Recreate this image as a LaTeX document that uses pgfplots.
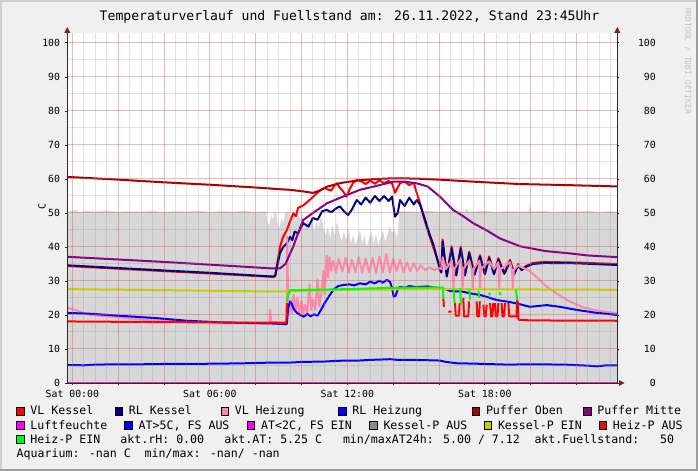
\documentclass[border=0pt]{standalone}
\usepackage{fontspec}
\setmainfont{DejaVu Sans Mono}
\usepackage{pgfplots}
\pgfplotsset{compat=1.18}

\definecolor{bgc}{HTML}{F0F0F0}
\definecolor{shadeA}{HTML}{CFCFCF}
\definecolor{shadeB}{HTML}{9E9E9E}
\definecolor{areac}{HTML}{D7D7D7}
\definecolor{vlk}{HTML}{FF0000}
\definecolor{rlk}{HTML}{000080}
\definecolor{vlh}{HTML}{FF88AA}
\definecolor{rlh}{HTML}{0000FF}
\definecolor{po}{HTML}{AA0000}
\definecolor{pm}{HTML}{880088}
\definecolor{lf}{HTML}{FF00FF}
\definecolor{kpa}{HTML}{8C8C8C}
\definecolor{kpe}{HTML}{CCCC00}
\definecolor{hpe}{HTML}{00FF00}
\definecolor{gridmaj}{HTML}{DE5050}
\definecolor{gridmin}{HTML}{8F8F8F}
\definecolor{axc}{HTML}{2A2A2A}
\definecolor{arrc}{HTML}{7F1F1F}
\definecolor{wmark}{HTML}{C4C4C4}

\newcommand{\tickfont}{\fontsize{9.85bp}{11bp}\selectfont}
\newcommand{\legfont}{\fontsize{11.6bp}{13bp}\selectfont}
\newcommand{\titfont}{\fontsize{13.1bp}{15bp}\selectfont}

\begin{document}
\begin{tikzpicture}
\useasboundingbox (0,0) rectangle (698bp,471bp);
\begin{scope}[shift={(0,471bp)}, x=1bp, y=-1bp]
  \fill[bgc] (0,0) rectangle (698,471);
  \fill[shadeA] (0,0) rectangle (698,2);
  \fill[shadeA] (0,0) rectangle (2,471);
  \fill[shadeB] (0,469) rectangle (698,471);
  \fill[shadeB] (696,0) rectangle (698,471);
\end{scope}

\begin{axis}[
  at={(67.3bp,88bp)}, anchor=south west,
  scale only axis, width=550bp, height=350.3bp,
  xmin=-0.22, xmax=23.78, ymin=0, ymax=103,
  axis background/.style={fill=white},
  axis x line*=bottom, axis y line*=left,
  axis line style={draw=axc, line width=0.8bp, -},
  xtick={0,2,...,22},
  xticklabels={Sat 00:00,,,Sat 06:00,,,Sat 12:00,,,Sat 18:00,,},
  minor xtick={0.5,1,1.5,2.5,3,3.5,4.5,5,5.5,6.5,7,7.5,8.5,9,9.5,10.5,11,11.5,12.5,13,13.5,14.5,15,15.5,16.5,17,17.5,18.5,19,19.5,20.5,21,21.5,22.5,23,23.5},
  ytick={0,10,...,100},
  minor ytick={5,15,...,95},
  grid=both,
  major grid style={draw=gridmaj, opacity=0.4, line width=1bp},
  minor grid style={draw=gridmin, opacity=0.26, line width=1bp},
  tick align=outside, major tick length=2bp, minor tick length=0bp,
  tick style={draw=axc, line width=0.8bp},
  /pgf/number format/assume math mode=true,
  xticklabel style={font=\tickfont, anchor=north, inner sep=0pt, yshift=-5bp},
  yticklabel style={font=\tickfont, anchor=east, inner sep=0pt, xshift=-5bp},
  axis on top, clip=false,
  unbounded coords=jump,
  every axis plot/.append style={line width=2bp, line join=round},
]
% grey area
\addplot[fill=areac, draw=none, line width=0pt] coordinates {
(-0.22,50.2) (0.1,50.9) (0.3,50.3) (0.6,50.6) (1.0,50.4) (1.5,50.7) (2.0,50.3) (2.5,50.5) (3,50.4) (3.5,50.6) (4,50.3) (4.5,50.5) (5,50.4) (5.5,50.6) (6,50.3) (6.5,50.5) (7,50.4) (7.5,50.6) (8,50.3) (8.45,50.5) (8.52,47.5) (8.6,46.2) (8.68,49.5) (8.75,48) (8.82,50.3) (8.9,49.8) (8.98,46.2) (9.05,45.5) (9.12,48.5) (9.2,47) (9.3,50.2) (9.45,50.4)
(9.55,48.5) (9.65,50.2) (9.75,47.5) (9.85,49.8) (9.95,48) (10.05,50) (10.15,45) (10.25,48.5) (10.35,46) (10.45,49.5) (10.55,44.5) (10.65,47.5) (10.75,45.5) (10.85,49) (10.95,46) (11.05,43.5) (11.15,46) (11.25,42.5) (11.35,46.5) (11.45,43) (11.55,47.5) (11.65,44) (11.75,41.5) (11.85,44.5) (11.95,42) (12.05,45.5) (12.15,41) (12.25,43.5) (12.35,40.5) (12.45,42.5) (12.55,45) (12.65,41) (12.75,43.5) (12.85,40) (12.95,42.5) (13.05,44.5) (13.15,41) (13.25,43.5) (13.35,40.5) (13.45,42.5) (13.55,45) (13.65,41.5) (13.75,43.5) (13.85,46) (13.95,44) (14.05,45) (14.15,43) (14.22,44.5) (14.26,50.4) (14.6,50.5) (15,50.3) (15.5,50.6) (16,50.4) (16.5,50.5) (17.1,50.4) (17.2,51.3) (17.3,50.4) (18,50.6) (18.5,50.3) (19,50.5) (19.5,50.4) (19.9,50.5) (19.97,52) (20.04,50.4) (20.5,50.6) (21,50.3) (21.5,50.5) (22,50.4) (22.5,50.6) (23,50.3) (23.5,50.5) (23.78,50.3)
} \closedcycle;
% VL Kessel
\addplot[vlk] coordinates {
(-0.22,34.4) (2,33.6) (4,32.9) (6,32.2) (8.76,31.2) (8.85,31.4) (9.06,40) (9.2,43) (9.36,45) (9.5,47.5) (9.64,49.9) (9.75,49) (9.85,51.5) (10.07,52.2) (10.3,53.5) (10.52,54.8) (10.7,56) (10.85,56.8) (11.0,57.4) (11.1,57.0) (11.3,56.6) (11.45,58.2) (11.54,58.7) (11.65,57.6) (11.8,56.5) (11.97,54.8) (12.1,57) (12.25,58.8) (12.41,59.7) (12.6,59.3) (12.8,58.5) (13.0,59.5) (13.2,58.6) (13.4,59.6) (13.6,58.8) (13.8,59.4) (13.95,58.7) (14.08,55.9) (14.2,57.5) (14.3,58.8) (14.5,59.2) (14.7,58.2) (14.9,58.9) (15.03,55.8) (15.17,52.9) (15.3,49.5) (15.46,46) (15.6,43) (15.74,40.1) (15.9,37) (16.04,34.2) (16.1,32.8)
(16.16,42.2) (16.34,31.5) (16.55,40.2) (16.75,31.8) (16.95,40.1) (17.13,31.8) (17.32,38.6) (17.55,32.0) (17.79,37.6) (18.0,32.2) (18.19,37.2) (18.4,32.2) (18.59,36.7) (18.85,32.3) (19.10,36.2) (19.28,32.2) (19.45,35.0)
(19.6,33.4) (19.8,34.4) (20.1,35.3) (20.6,35.6) (22,35.4) (23.78,35.0)
};
% RL Kessel
\addplot[rlk] coordinates {
(-0.22,34.6) (2,33.8) (4,33.1) (6,32.4) (8.76,31.3) (8.85,31.5) (9.06,38.2) (9.2,40) (9.36,41) (9.5,43) (9.6,42) (9.7,44.5) (9.85,44) (10.07,47) (10.3,46) (10.5,48.5) (10.7,48) (10.9,50.5) (11.1,50.9) (11.3,50.2) (11.54,51.5) (11.68,51.9) (11.85,50.5) (12.03,49.4) (12.2,51) (12.41,53.8) (12.6,52.5) (12.8,54.5) (13.0,53) (13.2,55) (13.4,53.5) (13.6,55) (13.8,53.5) (13.95,54.8) (14.08,48.9) (14.2,50) (14.3,53.8) (14.5,52) (14.7,54.5) (14.9,52.5) (15.03,53.8) (15.17,52.5) (15.3,50) (15.46,46.5) (15.6,43.5) (15.74,41) (15.9,37) (16.04,33.2) (16.1,32.5)
(16.16,41.6) (16.34,31.3) (16.55,39.6) (16.75,31.6) (16.95,39.6) (17.13,31.6) (17.32,38.1) (17.55,31.8) (17.79,37.1) (18.0,32.0) (18.19,36.7) (18.4,32.0) (18.59,36.2) (18.85,32.1) (19.10,35.7) (19.28,32.0) (19.45,34.6)
(19.6,33.2) (19.8,34.2) (20.1,35.0) (20.6,35.3) (22,35.2) (23.78,34.7)
};
% VL Heizung
\addplot[vlh] coordinates {
(-0.22,22.1) (0.1,21.5) (0.4,20.8) (0.685,20.1) (1.5,19.6) (2.5,19.0) (3.61,18.4) (5,18.0) (6.5,17.7) (8.0,17.5) (8.6,17.5) (8.63,21.5) (8.68,18) (9.3,17.8) (9.36,17.8) (9.38,43) (9.42,20) (9.5,24) (9.58,20.5) (9.66,26) (9.74,21) (9.82,25) (9.9,20.5) (10.0,24) (10.08,20.5) (10.16,23) (10.25,20.5) (10.35,29) (10.42,21.5) (10.5,24.5) (10.6,21.5) (10.7,30.5) (10.78,22.5) (10.88,27) (10.96,33) (11.02,26) (11.1,37.5) (11.16,31) (11.22,37) (11.3,33) (11.38,36)
(11.5,32.5) (11.62,36.5) (11.78,32.8) (11.92,36.8) (12.06,32.5) (12.2,36.2) (12.35,32.6) (12.5,37) (12.65,32.4) (12.8,36.6) (12.95,32.5) (13.1,36.8) (13.25,32.3) (13.4,37.2) (13.55,32.6) (13.7,38) (13.85,32.4) (14.0,36.5) (14.15,32.8) (14.3,36.2) (14.45,32.6) (14.6,35.5) (14.75,32.8) (14.9,35.2) (15.05,33) (15.2,34.6) (15.4,33.2) (15.6,34) (15.8,33.2) (16.0,33.8)
(16.1,33.5) (16.16,37) (16.3,33.5) (16.55,36) (16.6,33) (16.63,27.8) (16.67,33.5) (16.95,36.5) (17.0,33.2) (17.03,27.6) (17.07,33.6) (17.32,36) (17.44,33) (17.47,27.8) (17.51,33.5) (17.76,36) (17.79,28) (17.83,33.5) (18.19,35.8) (18.4,33.5) (18.59,35.5) (18.61,33) (18.63,27.8) (18.67,33.4) (19.1,35.5) (19.19,33) (19.22,27.6) (19.26,33.2) (19.45,34.6) (19.6,34.0) (19.9,33.2) (20.2,31.5) (20.7,28.3) (21.2,26) (21.72,23.9) (22.3,22.2) (23.0,21.2) (23.78,20.5)
};
% RL Heizung
\addplot[rlh] coordinates {
(-0.22,20.6) (0.685,20.4) (2,19.8) (3.61,19.1) (5,18.3) (6.53,17.8) (8.7,17.5) (9.3,17.3) (9.36,17.4) (9.42,22) (9.5,24) (9.58,23.2) (9.66,21.8) (9.8,20.6) (9.95,20.0) (10.1,19.5) (10.25,20.3) (10.4,19.6) (10.55,20.2) (10.7,19.8) (10.85,21.5) (11.0,23.4) (11.2,25.5) (11.4,27.5) (11.6,28.5) (11.8,28.8) (12.1,29.0) (12.3,28.7) (12.55,29.3) (12.8,29.0) (13.0,29.8) (13.2,29.3) (13.4,30.1) (13.55,29.5) (13.72,30.3) (13.86,29.8) (13.95,28) (14.02,25.4) (14.1,25.6) (14.2,27.5) (14.3,28.3) (14.5,28.0) (14.7,28.5) (15.0,28.2) (15.5,28.4) (16.04,27.8) (16.3,27.6) (16.5,27.0) (17.0,26.9) (17.49,26.2) (17.79,25.9) (18.0,25.5) (18.52,24.4) (19.0,23.9) (19.39,23.4) (19.97,22.4) (20.4,22.7) (20.7,22.9) (21.28,22.4) (22,21.5) (22.8,20.7) (23.78,20.0)
};
% Puffer Oben
\addplot[po] coordinates {
(-0.22,60.6) (2,59.8) (4,59.0) (6,58.3) (8.19,57.4) (9.0,57.0) (9.5,56.8) (10.0,56.4) (10.5,55.9) (10.8,56.6) (11.1,57.7) (11.7,58.8) (12.5,59.6) (13.3,60.0) (14.0,60.2) (15.0,60.1) (16.0,59.8) (17.5,59.2) (19.5,58.5) (21.5,58.2) (23.78,57.8)
};
% Puffer Mitte
\addplot[pm] coordinates {
(-0.22,37.1) (4,35.6) (8.7,33.7) (9.06,33.7) (9.3,35) (9.64,40.1) (9.85,44) (10.07,47.9) (10.5,50) (11.1,52.8) (11.7,54.5) (12.55,56.8) (13.3,58) (14.0,59.2) (14.5,59.2) (15.03,58.7) (15.5,57.8) (16.04,54.8) (16.61,50.9) (17.0,49.3) (17.49,47.0) (18.1,44.8) (18.66,42.5) (19.54,40.2) (20.63,38.8) (21.72,38.1) (22.5,37.5) (23.78,37.0)
};
% Luftfeuchte
\addplot[lf] coordinates {(-0.22,0) (23.78,0)};
% AT
\addplot[rlh] coordinates {
(-0.22,5.3) (0.5,5.2) (1,5.4) (2,5.5) (3,5.5) (4,5.6) (5,5.6) (6.5,5.7) (7.5,5.8) (8.7,6.0) (9.5,6.0) (10,6.2) (11,6.3) (11.5,6.5) (12,6.6) (12.5,6.6) (13,6.8) (13.5,6.9) (13.86,7.0) (14.2,6.8) (14.8,6.8) (15.5,6.7) (16.04,6.6) (16.3,6.2) (16.8,5.8) (17.5,5.7) (18,5.6) (19.0,5.4) (20,5.5) (21.5,5.4) (22.5,5.1) (22.9,4.9) (23.3,5.2) (23.78,5.2)
};
% Kessel-P EIN
\addplot[kpe] coordinates {
(-0.22,27.6) (4,27.3) (8.7,26.9) (9.5,27.0) (12,27.4) (16,27.6) (20,27.5) (23.78,27.4)
};
% Heiz-P AUS
\addplot[vlk] coordinates {
(-0.22,18.1) (4,17.9) (9.34,17.7) (9.36,23.5) (9.37,nan)
(16.19,24.9) (16.21,22.4) (16.22,nan)
(16.41,21.0) (16.55,21.0) (16.56,nan)
(16.70,23.5) (16.73,19.8) (16.87,19.8) (16.90,23.5) (16.91,nan)
(17.06,25) (17.09,19.6) (17.28,19.6) (17.31,24) (17.32,nan)
(17.64,24) (17.67,19.6) (17.75,19.6) (17.78,24) (17.79,nan)
(17.94,23) (17.98,19.6) (18.04,19.6) (18.08,23) (18.09,nan)
(18.23,23.5) (18.27,19.6) (18.33,19.6) (18.37,23.5) (18.38,nan)
(18.44,23.5) (18.48,19.6) (18.55,19.6) (18.59,23.5) (18.60,nan)
(18.73,23.5) (18.77,19.6) (18.84,19.6) (18.88,23.5) (18.89,nan)
(19.03,23.5) (19.06,19.6) (19.38,19.6) (19.41,24.5) (19.42,nan)
(19.44,24) (19.47,18.6) (20,18.4) (23.78,18.3)
};
% Heiz-P EIN
\addplot[hpe] coordinates {
(9.36,24.0) (9.42,26.0) (9.5,27.3) (10.5,27.4) (12,27.6) (14,28.0) (16.0,28.1) (16.17,28.0) (16.19,24.9) (16.2,nan)
(16.63,27.8) (16.68,23.5) (16.69,nan)
(16.92,27.8) (16.96,23.0) (16.97,nan)
(17.32,27.5) (17.36,24.5) (17.37,nan)
(17.72,27.0) (17.76,25.0) (17.77,nan)
(18.18,26.5) (18.23,25.8) (18.24,nan)
(18.64,26.8) (18.68,25.8) (18.69,nan)
(19.36,27.5) (19.41,24.5)
};
\end{axis}

\begin{axis}[
  at={(67.3bp,88bp)}, anchor=south west,
  scale only axis, width=550bp, height=350.3bp,
  xmin=-0.22, xmax=23.78, ymin=0, ymax=103,
  axis x line=none, axis y line*=right,
  axis line style={draw=axc, line width=0.8bp, -},
  ytick={0,10,...,100},
  tick align=outside, major tick length=2bp,
  tick style={draw=axc, line width=0.8bp},
  /pgf/number format/assume math mode=true,
  yticklabel style={font=\tickfont, anchor=east, inner sep=0pt, xshift=36.7bp},
]
\addplot[draw=none] coordinates {(0,0)};
\end{axis}

\begin{scope}[shift={(0,471bp)}, x=1bp, y=-1bp]
  % axis arrow heads
  \draw[axc, line width=0.8bp] (617.3,383) -- (619.5,383);
  \fill[arrc] (619,380) -- (619,386) -- (624.5,383) -- cycle;
  \fill[arrc] (64.3,32.8) -- (70.3,32.8) -- (67.3,27) -- cycle;
  \fill[arrc] (614.3,32.8) -- (620.3,32.8) -- (617.3,27) -- cycle;
  \node[font=\titfont, anchor=base, inner sep=0pt] at (349.5,20.5) {Temperaturverlauf und Fuellstand am: 26.11.2022, Stand 23:45Uhr};
  \node[font=\tickfont, rotate=90, inner sep=0pt] at (42,207) {C};
  \node[font=\fontsize{8bp}{9bp}\selectfont, text=wmark, rotate=-90, inner sep=0pt] at (688,61) {RRDTOOL / TOBI OETIKER};
  % legend
  \foreach \bx/\col/\txt in {16.5/vlk/VL Kessel, 115/rlk/RL Kessel, 220.8/vlh/VL Heizung, 338.4/rlh/RL Heizung, 472/po/Puffer Oben, 583.3/pm/Puffer Mitte}{
    \filldraw[fill=\col, draw=black, line width=0.6bp] (\bx,407.3) rectangle ++(7.5,7.7);
    \node[font=\legfont, anchor=base west, inner sep=0pt] at (\bx+13.8,415) {\txt};
  }
  \foreach \bx/\col/\txt in {16.5/lf/Luftfeuchte, 124.7/rlh/{AT>5C, FS AUS}, 247.1/lf/{AT<2C, FS EIN}, 369.5/kpa/Kessel-P AUS, 484/kpe/Kessel-P EIN, 598.8/vlk/Heiz-P AUS}{
    \filldraw[fill=\col, draw=black, line width=0.6bp] (\bx,421.6) rectangle ++(7.5,7.7);
    \node[font=\legfont, anchor=base west, inner sep=0pt] at (\bx+13.8,429.3) {\txt};
  }
  \filldraw[fill=hpe, draw=black, line width=0.6bp] (16.5,435.6) rectangle ++(7.5,7.7);
  \node[font=\legfont, anchor=base west, inner sep=0pt] at (30.3,443.3) {Heiz-P EIN};
  \node[font=\legfont, anchor=base west, inner sep=0pt] at (120.2,443.3) {akt.rH: 0.00};
  \node[font=\legfont, anchor=base west, inner sep=0pt] at (224.2,443.3) {akt.AT: 5.25 C};
  \node[font=\legfont, anchor=base west, inner sep=0pt] at (342.8,443.3) {min/maxAT24h: 5.00 / 7.12};
  \node[font=\legfont, anchor=base west, inner sep=0pt] at (534.3,443.3) {akt.Fuellstand:~~~50};
  \node[font=\legfont, anchor=base west, inner sep=0pt] at (16.5,457.6) {Aquarium: -nan C~~min/max: -nan/ -nan};
\end{scope}
\end{tikzpicture}
\end{document}
